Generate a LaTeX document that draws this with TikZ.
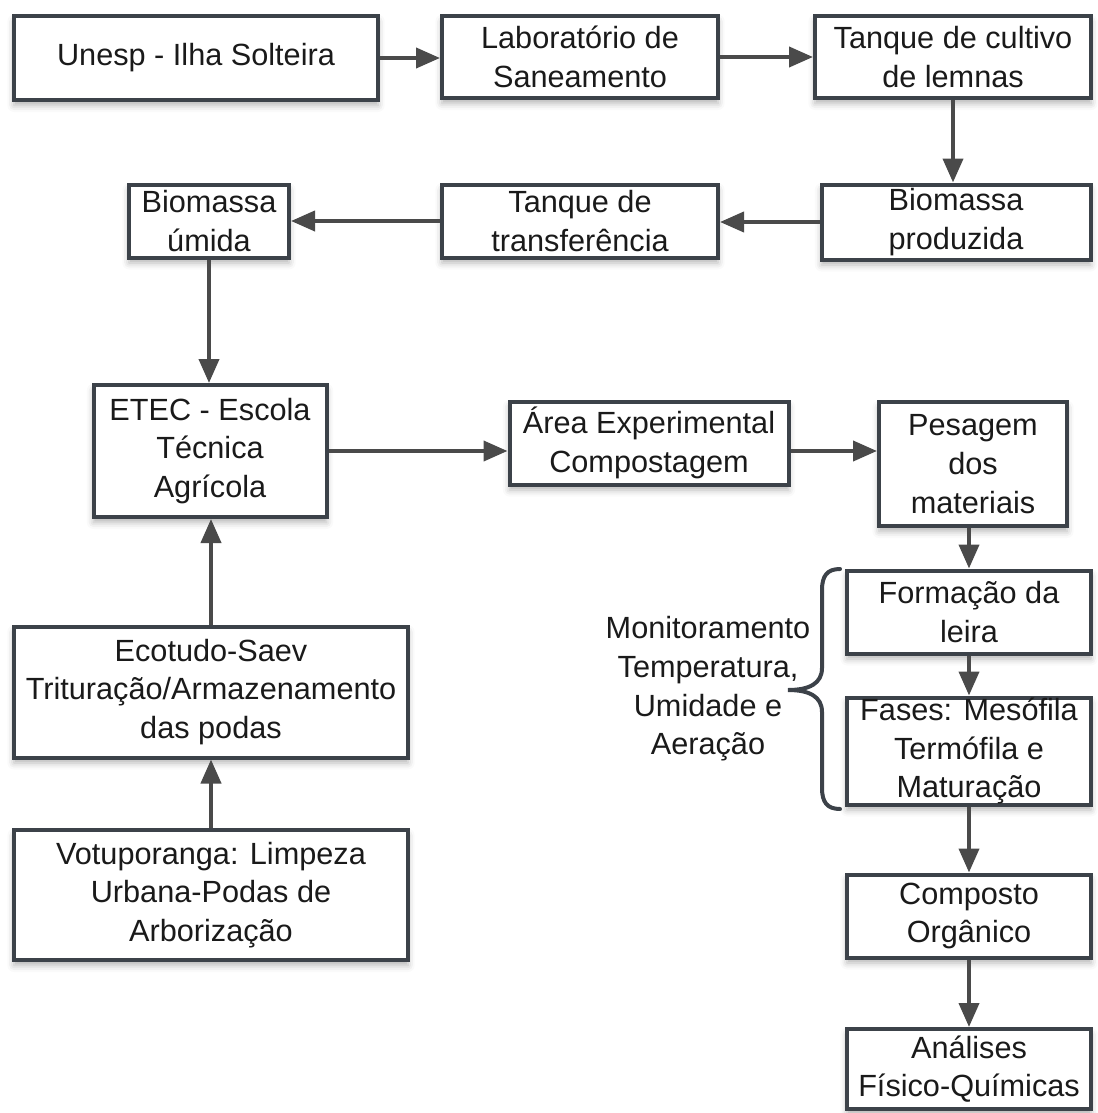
\documentclass[tikz,border=0pt]{standalone}
\usepackage{fontspec}
\setmainfont{Liberation Sans}
\usetikzlibrary{arrows.meta,shadows.blur}
\definecolor{edge}{HTML}{3C4249}
\definecolor{link}{HTML}{4A4A4A}
\definecolor{ink}{HTML}{1A1A1A}
\begin{document}
\begin{tikzpicture}[x=0.75pt,y=-0.75pt,
  box/.style={draw=edge, line width=3pt, fill=white, align=center,
    inner sep=0pt, text=ink, font=\fontsize{23}{29}\selectfont,
    blur shadow={shadow xshift=0pt, shadow yshift=-4pt,
      shadow blur radius=5pt, shadow opacity=30}},
  sz/.style 2 args={minimum width=#1*0.75pt-3pt, minimum height=#2*0.75pt-3pt},
  flow/.style={draw=link, line width=3pt, -{Triangle[length=18pt,width=15pt]}},
  note/.style={text=ink, align=center, font=\fontsize{23}{29}\selectfont},
]
\useasboundingbox (0,0) rectangle (1097,1113);

% boxes
\node[box,sz={368}{88}]  (unesp)  at (196,58)   {Unesp - Ilha Solteira};
\node[box,sz={280}{86}]  (lab)    at (580,57)   {Laboratório de\\Saneamento};
\node[box,sz={280}{86}]  (cult)   at (953,57)   {Tanque de cultivo\\de lemnas};
\node[box,sz={273}{79}]  (prod)   at (956,222)  {Biomassa\\produzida};
\node[box,sz={280}{77}]  (transf) at (580,221)  {Tanque de\\transferência};
\node[box,sz={164}{77}]  (umida)  at (209,221)  {Biomassa\\úmida};
\node[box,sz={237}{136}] (etec)   at (210,451)  {ETEC - Escola\\Técnica\\Agrícola};
\node[box,sz={283}{87}]  (area)   at (649,443)  {Área Experimental\\Compostagem};
\node[box,sz={192}{128}] (pes)    at (973,464)  {Pesagem\\dos\\materiais};
\node[box,sz={248}{87}]  (form)   at (969,612)  {Formação da\\leira};
\node[box,sz={248}{111}] (fases)  at (969,751)  {Fases: Mesófila\\Termófila e\\Maturação};
\node[box,sz={248}{87}]  (comp)   at (969,916)  {Composto\\Orgânico};
\node[box,sz={248}{84}]  (anal)   at (969,1069) {Análises\\Físico-Químicas};
\node[box,sz={398}{135}] (eco)    at (211,692)  {Ecotudo-Saev\\Trituração/Armazenamento\\das podas};
\node[box,sz={398}{134}] (votu)   at (211,895)  {Votuporanga: Limpeza\\Urbana-Podas de\\Arborização};

% monitoring note with its brace
\node[note] (mon) at (708,689) {Monitoramento\\Temperatura,\\Umidade e\\Aeração};
\draw[edge, line width=3pt, line cap=round]
  (840,569) .. controls (827,569) and (822,576) .. (822,590)
  -- (822,668) .. controls (822,683) and (810,690) .. (788,690)
  .. controls (810,690) and (822,697) .. (822,712)
  -- (822,788) .. controls (822,802) and (827,809) .. (840,809);

% connectors
\draw[flow] (unesp.east) -- (unesp.east -| lab.west);
\draw[flow] (lab.east) -- (lab.east -| cult.west);
\draw[flow] (cult.south) -- (cult.south |- prod.north);
\draw[flow] (prod.west) -- (prod.west -| transf.east);
\draw[flow] (transf.west) -- (transf.west -| umida.east);
\draw[flow] (umida.south) -- (umida.south |- etec.north);
\draw[flow] (eco.north) -- (eco.north |- etec.south);
\draw[flow] (votu.north) -- (votu.north |- eco.south);
\draw[flow] (etec.east) -- (etec.east -| area.west);
\draw[flow] (area.east |- etec.east) -- (etec.east -| pes.west);
\draw[flow] (form.north |- pes.south) -- (form.north);
\draw[flow] (form.south) -- (fases.north);
\draw[flow] (fases.south) -- (comp.north);
\draw[flow] (comp.south) -- (anal.north);
\end{tikzpicture}
\end{document}
